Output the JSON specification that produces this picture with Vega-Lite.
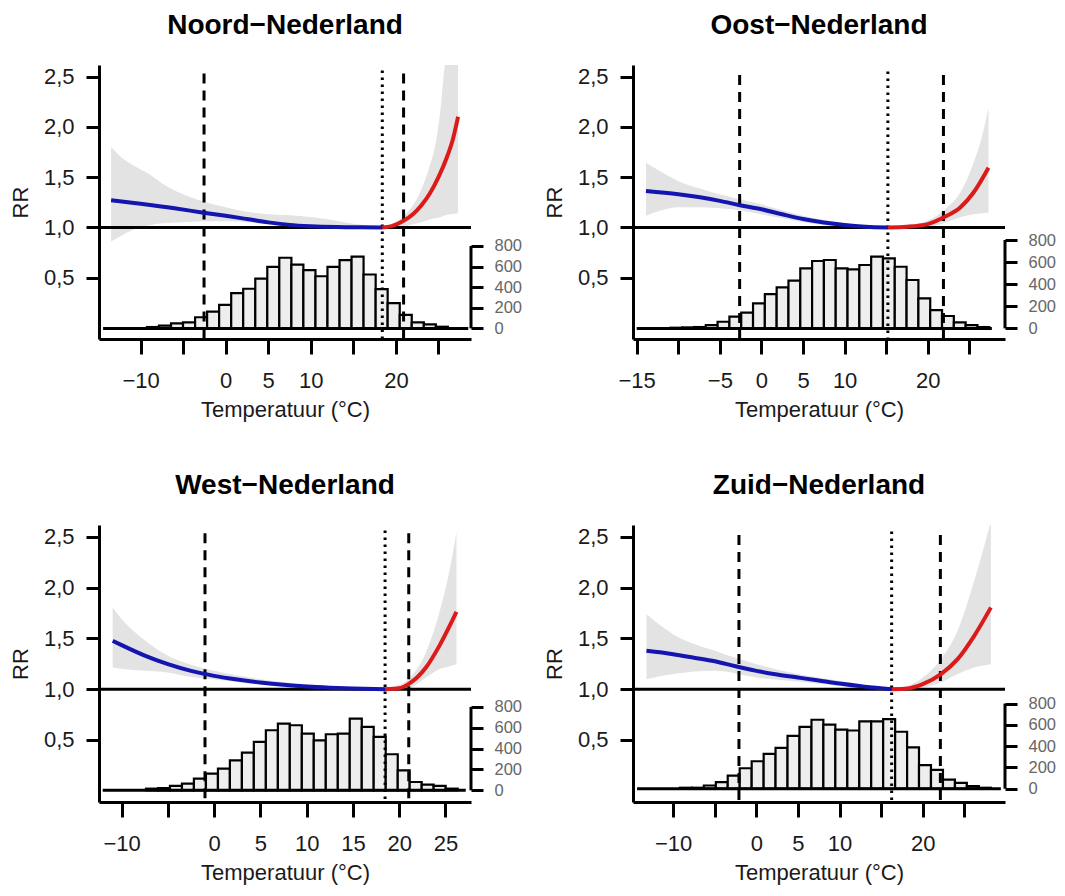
{
  "$schema": "https://vega.github.io/schema/vega-lite/v6.json",
  "background": "white",
  "padding": {"left": 9, "top": 12, "right": 5, "bottom": 5},
  "config": {
    "view": {"stroke": null},
    "font": "Liberation Sans",
    "axis": {"domainColor": "black", "domainWidth": 3, "tickColor": "black", "tickWidth": 3, "labelFont": "Liberation Sans", "labelFontSize": 22, "labelColor": "#1a1a1a", "titleFont": "Liberation Sans", "titleFontSize": 22, "titleFontWeight": "normal", "titleColor": "#1a1a1a", "grid": false, "labelFlush": false, "labelOverlap": false},
    "title": {"font": "Liberation Sans", "fontSize": 28, "fontWeight": "bold", "color": "black", "anchor": "middle", "frame": "group", "baseline": "alphabetic", "offset": 25}
  },
  "datasets": {
    "n_c": [
      {"t": -13.46, "rr": 1.27, "seg": "k"}, {"t": -10, "rr": 1.235, "seg": "k"}, {"t": -6, "rr": 1.19, "seg": "k"}, {"t": -2.6, "rr": 1.146, "seg": "k"}, {"t": 0, "rr": 1.115, "seg": "k"}, {"t": 2.5, "rr": 1.083, "seg": "k"}, {"t": 5, "rr": 1.05, "seg": "k"}, {"t": 7.5, "rr": 1.025, "seg": "k"}, {"t": 10, "rr": 1.012, "seg": "k"}, {"t": 13, "rr": 1.004, "seg": "k"}, {"t": 16, "rr": 1.001, "seg": "k"}, {"t": 18.4, "rr": 1.0, "seg": "k"},
      {"t": 18.4, "rr": 1.0, "seg": "w"}, {"t": 19.5, "rr": 1.012, "seg": "w"}, {"t": 20.8, "rr": 1.06, "seg": "w"}, {"t": 22, "rr": 1.13, "seg": "w"}, {"t": 23, "rr": 1.22, "seg": "w"}, {"t": 24, "rr": 1.34, "seg": "w"}, {"t": 25, "rr": 1.5, "seg": "w"}, {"t": 26, "rr": 1.7, "seg": "w"}, {"t": 26.7, "rr": 1.88, "seg": "w"}, {"t": 27.3, "rr": 2.1, "seg": "w"}
    ],
    "n_b": [
      {"t": -13.46, "lo": 0.86, "hi": 1.8}, {"t": -12, "lo": 0.93, "hi": 1.68}, {"t": -10.5, "lo": 0.99, "hi": 1.6}, {"t": -9, "lo": 1.02, "hi": 1.53}, {"t": -7.5, "lo": 1.04, "hi": 1.44}, {"t": -5, "lo": 1.05, "hi": 1.33}, {"t": -2.5, "lo": 1.06, "hi": 1.255}, {"t": 0, "lo": 1.06, "hi": 1.2}, {"t": 2.5, "lo": 1.05, "hi": 1.156}, {"t": 5, "lo": 1.03, "hi": 1.13}, {"t": 8.4, "lo": 1.01, "hi": 1.115}, {"t": 12, "lo": 1.0, "hi": 1.08}, {"t": 15, "lo": 1.0, "hi": 1.035}, {"t": 17, "lo": 1.0, "hi": 1.015}, {"t": 18.4, "lo": 1.0, "hi": 1.0}, {"t": 20, "lo": 1.0, "hi": 1.05}, {"t": 21, "lo": 1.01, "hi": 1.12}, {"t": 22, "lo": 1.03, "hi": 1.22}, {"t": 23, "lo": 1.05, "hi": 1.38}, {"t": 24, "lo": 1.08, "hi": 1.62}, {"t": 24.7, "lo": 1.09, "hi": 1.85}, {"t": 25.2, "lo": 1.1, "hi": 2.15}, {"t": 25.75, "lo": 1.12, "hi": 2.62}, {"t": 26.5, "lo": 1.13, "hi": 2.9}, {"t": 27.3, "lo": 1.14, "hi": 3.0}
    ],
    "n_h": [
      {"t0": -9.25, "t1": -7.84, "n": 13}, {"t0": -7.84, "t1": -6.42, "n": 26}, {"t0": -6.42, "t1": -5.01, "n": 49}, {"t0": -5.01, "t1": -3.59, "n": 59}, {"t0": -3.59, "t1": -2.18, "n": 108}, {"t0": -2.18, "t1": -0.77, "n": 163}, {"t0": -0.77, "t1": 0.65, "n": 229}, {"t0": 0.65, "t1": 2.06, "n": 343}, {"t0": 2.06, "t1": 3.48, "n": 385}, {"t0": 3.48, "t1": 4.89, "n": 483}, {"t0": 4.89, "t1": 6.3, "n": 598}, {"t0": 6.3, "t1": 7.72, "n": 686}, {"t0": 7.72, "t1": 9.13, "n": 620}, {"t0": 9.13, "t1": 10.55, "n": 565}, {"t0": 10.55, "t1": 11.96, "n": 506}, {"t0": 11.96, "t1": 13.38, "n": 598}, {"t0": 13.38, "t1": 14.79, "n": 663}, {"t0": 14.79, "t1": 16.2, "n": 696}, {"t0": 16.2, "t1": 17.62, "n": 523}, {"t0": 17.62, "t1": 19.03, "n": 382}, {"t0": 19.03, "t1": 20.45, "n": 245}, {"t0": 20.45, "t1": 21.86, "n": 131}, {"t0": 21.86, "t1": 23.28, "n": 59}, {"t0": 23.28, "t1": 24.69, "n": 39}, {"t0": 24.69, "t1": 26.1, "n": 16}
    ],
    "n_v": [{"t": -2.54, "top": 2.53, "k": "d"}, {"t": 20.9, "top": 2.53, "k": "d"}, {"t": 18.4, "top": 2.56, "k": "p"}],
    "o_c": [
      {"t": -13.88, "rr": 1.363, "seg": "k"}, {"t": -10, "rr": 1.33, "seg": "k"}, {"t": -5, "rr": 1.264, "seg": "k"}, {"t": -2.6, "rr": 1.221, "seg": "k"}, {"t": 0, "rr": 1.18, "seg": "k"}, {"t": 2.5, "rr": 1.13, "seg": "k"}, {"t": 5, "rr": 1.083, "seg": "k"}, {"t": 7.5, "rr": 1.048, "seg": "k"}, {"t": 10, "rr": 1.023, "seg": "k"}, {"t": 12.5, "rr": 1.007, "seg": "k"}, {"t": 15.2, "rr": 1.0, "seg": "k"},
      {"t": 15.2, "rr": 1.0, "seg": "w"}, {"t": 17.5, "rr": 1.007, "seg": "w"}, {"t": 20, "rr": 1.033, "seg": "w"}, {"t": 21.9, "rr": 1.1, "seg": "w"}, {"t": 23.9, "rr": 1.198, "seg": "w"}, {"t": 25.5, "rr": 1.347, "seg": "w"}, {"t": 27.3, "rr": 1.594, "seg": "w"}
    ],
    "o_b": [
      {"t": -13.88, "lo": 1.116, "hi": 1.644}, {"t": -12, "lo": 1.17, "hi": 1.55}, {"t": -10, "lo": 1.2, "hi": 1.46}, {"t": -7.5, "lo": 1.2, "hi": 1.39}, {"t": -5, "lo": 1.19, "hi": 1.33}, {"t": -2.6, "lo": 1.17, "hi": 1.28}, {"t": 0, "lo": 1.13, "hi": 1.23}, {"t": 2.5, "lo": 1.09, "hi": 1.17}, {"t": 5, "lo": 1.05, "hi": 1.116}, {"t": 7.5, "lo": 1.025, "hi": 1.075}, {"t": 10, "lo": 1.008, "hi": 1.04}, {"t": 12.5, "lo": 1.0, "hi": 1.015}, {"t": 15.2, "lo": 1.0, "hi": 1.0}, {"t": 17.5, "lo": 1.0, "hi": 1.02}, {"t": 20, "lo": 1.0, "hi": 1.066}, {"t": 21.9, "lo": 1.04, "hi": 1.17}, {"t": 23.9, "lo": 1.1, "hi": 1.347}, {"t": 25.5, "lo": 1.13, "hi": 1.644}, {"t": 26.5, "lo": 1.14, "hi": 1.9}, {"t": 27.3, "lo": 1.149, "hi": 2.19}
    ],
    "o_h": [
      {"t0": -10.95, "t1": -9.53, "n": 6}, {"t0": -9.53, "t1": -8.11, "n": 9}, {"t0": -8.11, "t1": -6.69, "n": 12}, {"t0": -6.69, "t1": -5.27, "n": 30}, {"t0": -5.27, "t1": -3.85, "n": 60}, {"t0": -3.85, "t1": -2.43, "n": 106}, {"t0": -2.43, "t1": -1.01, "n": 142}, {"t0": -1.01, "t1": 0.41, "n": 226}, {"t0": 0.41, "t1": 1.83, "n": 311}, {"t0": 1.83, "t1": 3.25, "n": 371}, {"t0": 3.25, "t1": 4.67, "n": 432}, {"t0": 4.67, "t1": 6.09, "n": 543}, {"t0": 6.09, "t1": 7.51, "n": 610}, {"t0": 7.51, "t1": 8.93, "n": 619}, {"t0": 8.93, "t1": 10.35, "n": 543}, {"t0": 10.35, "t1": 11.77, "n": 534}, {"t0": 11.77, "t1": 13.19, "n": 574}, {"t0": 13.19, "t1": 14.61, "n": 649}, {"t0": 14.61, "t1": 16.03, "n": 634}, {"t0": 16.03, "t1": 17.45, "n": 558}, {"t0": 17.45, "t1": 18.87, "n": 438}, {"t0": 18.87, "t1": 20.29, "n": 272}, {"t0": 20.29, "t1": 21.71, "n": 166}, {"t0": 21.71, "t1": 23.13, "n": 112}, {"t0": 23.13, "t1": 24.55, "n": 54}, {"t0": 24.55, "t1": 25.97, "n": 30}, {"t0": 25.97, "t1": 27.39, "n": 12}
    ],
    "o_v": [{"t": -2.62, "top": 2.516, "k": "d"}, {"t": 21.88, "top": 2.516, "k": "d"}, {"t": 15.2, "top": 2.55, "k": "p"}],
    "w_c": [
      {"t": -10.97, "rr": 1.475, "seg": "k"}, {"t": -10, "rr": 1.433, "seg": "k"}, {"t": -7.5, "rr": 1.33, "seg": "k"}, {"t": -5, "rr": 1.246, "seg": "k"}, {"t": -2.5, "rr": 1.18, "seg": "k"}, {"t": 0, "rr": 1.131, "seg": "k"}, {"t": 2.5, "rr": 1.095, "seg": "k"}, {"t": 5, "rr": 1.066, "seg": "k"}, {"t": 7.5, "rr": 1.043, "seg": "k"}, {"t": 10, "rr": 1.026, "seg": "k"}, {"t": 12.5, "rr": 1.015, "seg": "k"}, {"t": 15, "rr": 1.007, "seg": "k"}, {"t": 18.48, "rr": 1.0, "seg": "k"},
      {"t": 18.48, "rr": 1.0, "seg": "w"}, {"t": 20, "rr": 1.01, "seg": "w"}, {"t": 21, "rr": 1.05, "seg": "w"}, {"t": 22.9, "rr": 1.213, "seg": "w"}, {"t": 24.35, "rr": 1.426, "seg": "w"}, {"t": 26.2, "rr": 1.76, "seg": "w"}
    ],
    "w_b": [
      {"t": -10.97, "lo": 1.213, "hi": 1.803}, {"t": -10, "lo": 1.2, "hi": 1.69}, {"t": -7.5, "lo": 1.18, "hi": 1.48}, {"t": -5, "lo": 1.164, "hi": 1.328}, {"t": -2.5, "lo": 1.12, "hi": 1.24}, {"t": 0, "lo": 1.098, "hi": 1.18}, {"t": 5, "lo": 1.043, "hi": 1.098}, {"t": 10, "lo": 1.01, "hi": 1.049}, {"t": 15, "lo": 1.0, "hi": 1.016}, {"t": 18.48, "lo": 1.0, "hi": 1.0}, {"t": 20, "lo": 1.0, "hi": 1.04}, {"t": 21, "lo": 1.007, "hi": 1.098}, {"t": 22.9, "lo": 1.115, "hi": 1.36}, {"t": 24.35, "lo": 1.197, "hi": 1.754}, {"t": 25.3, "lo": 1.22, "hi": 2.1}, {"t": 26.2, "lo": 1.246, "hi": 2.54}
    ],
    "w_h": [
      {"t0": -7.37, "t1": -6.07, "n": 16}, {"t0": -6.07, "t1": -4.78, "n": 22}, {"t0": -4.78, "t1": -3.48, "n": 42}, {"t0": -3.48, "t1": -2.19, "n": 64}, {"t0": -2.19, "t1": -0.89, "n": 112}, {"t0": -0.89, "t1": 0.41, "n": 160}, {"t0": 0.41, "t1": 1.7, "n": 208}, {"t0": 1.7, "t1": 3.0, "n": 288}, {"t0": 3.0, "t1": 4.29, "n": 362}, {"t0": 4.29, "t1": 5.59, "n": 464}, {"t0": 5.59, "t1": 6.89, "n": 576}, {"t0": 6.89, "t1": 8.18, "n": 640}, {"t0": 8.18, "t1": 9.48, "n": 624}, {"t0": 9.48, "t1": 10.77, "n": 544}, {"t0": 10.77, "t1": 12.07, "n": 480}, {"t0": 12.07, "t1": 13.37, "n": 538}, {"t0": 13.37, "t1": 14.66, "n": 544}, {"t0": 14.66, "t1": 15.96, "n": 688}, {"t0": 15.96, "t1": 17.25, "n": 608}, {"t0": 17.25, "t1": 18.55, "n": 512}, {"t0": 18.55, "t1": 19.85, "n": 346}, {"t0": 19.85, "t1": 21.14, "n": 192}, {"t0": 21.14, "t1": 22.44, "n": 80}, {"t0": 22.44, "t1": 23.73, "n": 54}, {"t0": 23.73, "t1": 25.03, "n": 42}, {"t0": 25.03, "t1": 26.33, "n": 16}
    ],
    "w_v": [{"t": -0.99, "top": 2.533, "k": "d"}, {"t": 21.04, "top": 2.533, "k": "d"}, {"t": 18.48, "top": 2.56, "k": "p"}],
    "z_c": [
      {"t": -13.21, "rr": 1.377, "seg": "k"}, {"t": -10, "rr": 1.344, "seg": "k"}, {"t": -7.5, "rr": 1.31, "seg": "k"}, {"t": -5, "rr": 1.275, "seg": "k"}, {"t": -2.5, "rr": 1.225, "seg": "k"}, {"t": 0, "rr": 1.18, "seg": "k"}, {"t": 2.5, "rr": 1.145, "seg": "k"}, {"t": 5, "rr": 1.115, "seg": "k"}, {"t": 7.5, "rr": 1.085, "seg": "k"}, {"t": 10, "rr": 1.055, "seg": "k"}, {"t": 13, "rr": 1.025, "seg": "k"}, {"t": 16.27, "rr": 1.0, "seg": "k"},
      {"t": 16.27, "rr": 1.0, "seg": "w"}, {"t": 18.2, "rr": 1.007, "seg": "w"}, {"t": 20, "rr": 1.049, "seg": "w"}, {"t": 22.2, "rr": 1.148, "seg": "w"}, {"t": 24.2, "rr": 1.295, "seg": "w"}, {"t": 26.2, "rr": 1.525, "seg": "w"}, {"t": 28.2, "rr": 1.803, "seg": "w"}
    ],
    "z_b": [
      {"t": -13.21, "lo": 1.098, "hi": 1.738}, {"t": -10, "lo": 1.148, "hi": 1.541}, {"t": -5, "lo": 1.18, "hi": 1.377}, {"t": 0, "lo": 1.115, "hi": 1.246}, {"t": 5, "lo": 1.075, "hi": 1.148}, {"t": 10, "lo": 1.033, "hi": 1.082}, {"t": 15, "lo": 1.0, "hi": 1.016}, {"t": 16.27, "lo": 1.0, "hi": 1.0}, {"t": 18.2, "lo": 1.0, "hi": 1.03}, {"t": 20, "lo": 1.016, "hi": 1.115}, {"t": 22.2, "lo": 1.066, "hi": 1.295}, {"t": 24.2, "lo": 1.148, "hi": 1.574}, {"t": 26.2, "lo": 1.213, "hi": 2.066}, {"t": 28.2, "lo": 1.246, "hi": 2.65}
    ],
    "z_h": [
      {"t0": -9.19, "t1": -7.75, "n": 9}, {"t0": -7.75, "t1": -6.31, "n": 9}, {"t0": -6.31, "t1": -4.87, "n": 30}, {"t0": -4.87, "t1": -3.44, "n": 61}, {"t0": -3.44, "t1": -2.0, "n": 122}, {"t0": -2.0, "t1": -0.56, "n": 192}, {"t0": -0.56, "t1": 0.88, "n": 258}, {"t0": 0.88, "t1": 2.31, "n": 328}, {"t0": 2.31, "t1": 3.75, "n": 383}, {"t0": 3.75, "t1": 5.19, "n": 496}, {"t0": 5.19, "t1": 6.63, "n": 581}, {"t0": 6.63, "t1": 8.06, "n": 648}, {"t0": 8.06, "t1": 9.5, "n": 602}, {"t0": 9.5, "t1": 10.94, "n": 556}, {"t0": 10.94, "t1": 12.38, "n": 547}, {"t0": 12.38, "t1": 13.81, "n": 632}, {"t0": 13.81, "t1": 15.25, "n": 632}, {"t0": 15.25, "t1": 16.69, "n": 654}, {"t0": 16.69, "t1": 18.13, "n": 535}, {"t0": 18.13, "t1": 19.56, "n": 389}, {"t0": 19.56, "t1": 21.0, "n": 222}, {"t0": 21.0, "t1": 22.44, "n": 176}, {"t0": 22.44, "t1": 23.88, "n": 85}, {"t0": 23.88, "t1": 25.31, "n": 55}, {"t0": 25.31, "t1": 26.75, "n": 24}, {"t0": 26.75, "t1": 28.19, "n": 9}
    ],
    "z_v": [{"t": -2.09, "top": 2.517, "k": "d"}, {"t": 22.13, "top": 2.517, "k": "d"}, {"t": 16.27, "top": 2.55, "k": "p"}]
  },
  "columns": 2,
  "spacing": {"row": 186, "column": 162},
  "bounds": "flush",
  "concat": [
    {
      "width": 372, "height": 274,
      "title": {"text": "Noord−Nederland"},
      "resolve": {"scale": {"y": "independent"}, "axis": {"y": "independent"}},
      "layer": [
        {
          "layer": [
            {"data": {"name": "n_h"}, "mark": {"type": "rect", "fill": "#eeeeee", "stroke": "black", "strokeWidth": 2.2},
             "encoding": {"x": {"field": "t0", "type": "quantitative", "scale": {"domain": [-14.88, 28.82], "nice": false, "zero": false}}, "x2": {"field": "t1"},
                          "y": {"field": "n", "type": "quantitative", "scale": {"domain": [-103, 2557], "nice": false, "zero": false}, "axis": {"orient": "right", "values": [0, 200, 400, 600, 800], "domain": false, "tickSize": 12, "labelPadding": 11, "labelFontSize": 16.5, "labelColor": "#666666", "title": null}},
                          "y2": {"datum": 0}}},
            {"data": {"values": [{"a": -14.4, "b": 28.5}]}, "mark": {"type": "rule", "strokeWidth": 3, "color": "black"},
             "encoding": {"x": {"field": "a", "type": "quantitative", "scale": {"domain": [-14.88, 28.82], "nice": false, "zero": false}}, "x2": {"field": "b"},
                          "y": {"datum": 0, "type": "quantitative", "scale": {"domain": [-103, 2557], "nice": false, "zero": false}}}},
            {"data": {"values": [{"a": 0, "b": 800}]}, "mark": {"type": "rule", "strokeWidth": 3, "color": "black"},
             "encoding": {"x": {"value": "width"},
                          "y": {"field": "a", "type": "quantitative", "scale": {"domain": [-103, 2557], "nice": false, "zero": false}}, "y2": {"field": "b"}}}
          ]
        },
        {
          "layer": [
            {"data": {"name": "n_b"}, "mark": {"type": "area", "color": "#e3e3e3", "clip": true, "interpolate": "monotone"},
             "encoding": {"x": {"field": "t", "type": "quantitative", "scale": {"domain": [-14.88, 28.82], "nice": false, "zero": false},
                                "axis": {"orient": "bottom", "values": [-10, -5, 0, 5, 10, 15, 20, 25], "tickSize": 15, "labelPadding": 16, "labelExpr": "datum.value == -5 || datum.value == 15 || datum.value == 25 ? '' : datum.label", "title": "Temperatuur (°C)", "titlePadding": 8}},
                          "y": {"field": "lo", "type": "quantitative", "scale": {"domain": [-0.11, 2.615], "nice": false, "zero": false},
                                "axis": {"orient": "left", "values": [0.5, 1, 1.5, 2, 2.5], "tickSize": 13, "labelPadding": 12, "labelExpr": "replace(format(datum.value, '.1f'), '.', ',')", "title": "RR", "titlePadding": 11}},
                          "y2": {"field": "hi"}}},
            {"data": {"values": [{"a": 1}]}, "mark": {"type": "rule", "strokeWidth": 3, "color": "black"},
             "encoding": {"y": {"field": "a", "type": "quantitative", "scale": {"domain": [-0.11, 2.615], "nice": false, "zero": false}}}},
            {"data": {"name": "n_v"}, "mark": {"type": "rule", "strokeWidth": 3, "color": "black"},
             "encoding": {"x": {"field": "t", "type": "quantitative", "scale": {"domain": [-14.88, 28.82], "nice": false, "zero": false}},
                          "y": {"field": "top", "type": "quantitative", "scale": {"domain": [-0.11, 2.615], "nice": false, "zero": false}},
                          "y2": {"value": "height"},
                          "strokeDash": {"field": "k", "type": "nominal", "scale": {"domain": ["d", "p"], "range": [[10, 7], [2.5, 4.5]]}, "legend": null}}},
            {"data": {"name": "n_c"}, "mark": {"type": "line", "strokeWidth": 4, "interpolate": "monotone"},
             "encoding": {"x": {"field": "t", "type": "quantitative", "scale": {"domain": [-14.88, 28.82], "nice": false, "zero": false}},
                          "y": {"field": "rr", "type": "quantitative", "scale": {"domain": [-0.11, 2.615], "nice": false, "zero": false}},
                          "color": {"field": "seg", "type": "nominal", "scale": {"domain": ["k", "w"], "range": ["#1414b0", "#dc1a1a"]}, "legend": null}}}
          ]
        }
      ]
    },
    {
      "width": 372, "height": 274,
      "title": {"text": "Oost−Nederland"},
      "resolve": {"scale": {"y": "independent"}, "axis": {"y": "independent"}},
      "layer": [
        {
          "layer": [
            {"data": {"name": "o_h"}, "mark": {"type": "rect", "fill": "#eeeeee", "stroke": "black", "strokeWidth": 2.2},
             "encoding": {"x": {"field": "t0", "type": "quantitative", "scale": {"domain": [-15.44, 29.28], "nice": false, "zero": false}}, "x2": {"field": "t1"},
                          "y": {"field": "n", "type": "quantitative", "scale": {"domain": [-96, 2384], "nice": false, "zero": false}, "axis": {"orient": "right", "values": [0, 200, 400, 600, 800], "domain": false, "tickSize": 12, "labelPadding": 11, "labelFontSize": 16.5, "labelColor": "#666666", "title": null}},
                          "y2": {"datum": 0}}},
            {"data": {"values": [{"a": -15.0, "b": 27.7}]}, "mark": {"type": "rule", "strokeWidth": 3, "color": "black"},
             "encoding": {"x": {"field": "a", "type": "quantitative", "scale": {"domain": [-15.44, 29.28], "nice": false, "zero": false}}, "x2": {"field": "b"},
                          "y": {"datum": 0, "type": "quantitative", "scale": {"domain": [-96, 2384], "nice": false, "zero": false}}}},
            {"data": {"values": [{"a": 0, "b": 800}]}, "mark": {"type": "rule", "strokeWidth": 3, "color": "black"},
             "encoding": {"x": {"value": "width"},
                          "y": {"field": "a", "type": "quantitative", "scale": {"domain": [-96, 2384], "nice": false, "zero": false}}, "y2": {"field": "b"}}}
          ]
        },
        {
          "layer": [
            {"data": {"name": "o_b"}, "mark": {"type": "area", "color": "#e3e3e3", "clip": true, "interpolate": "monotone"},
             "encoding": {"x": {"field": "t", "type": "quantitative", "scale": {"domain": [-15.44, 29.28], "nice": false, "zero": false},
                                "axis": {"orient": "bottom", "values": [-15, -10, -5, 0, 5, 10, 15, 20, 25], "tickSize": 15, "labelPadding": 16, "labelExpr": "datum.value == -10 || datum.value == 15 || datum.value == 25 ? '' : datum.label", "title": "Temperatuur (°C)", "titlePadding": 8}},
                          "y": {"field": "lo", "type": "quantitative", "scale": {"domain": [-0.11, 2.615], "nice": false, "zero": false},
                                "axis": {"orient": "left", "values": [0.5, 1, 1.5, 2, 2.5], "tickSize": 13, "labelPadding": 12, "labelExpr": "replace(format(datum.value, '.1f'), '.', ',')", "title": "RR", "titlePadding": 11}},
                          "y2": {"field": "hi"}}},
            {"data": {"values": [{"a": 1}]}, "mark": {"type": "rule", "strokeWidth": 3, "color": "black"},
             "encoding": {"y": {"field": "a", "type": "quantitative", "scale": {"domain": [-0.11, 2.615], "nice": false, "zero": false}}}},
            {"data": {"name": "o_v"}, "mark": {"type": "rule", "strokeWidth": 3, "color": "black"},
             "encoding": {"x": {"field": "t", "type": "quantitative", "scale": {"domain": [-15.44, 29.28], "nice": false, "zero": false}},
                          "y": {"field": "top", "type": "quantitative", "scale": {"domain": [-0.11, 2.615], "nice": false, "zero": false}},
                          "y2": {"value": "height"},
                          "strokeDash": {"field": "k", "type": "nominal", "scale": {"domain": ["d", "p"], "range": [[10, 7], [2.5, 4.5]]}, "legend": null}}},
            {"data": {"name": "o_c"}, "mark": {"type": "line", "strokeWidth": 4, "interpolate": "monotone"},
             "encoding": {"x": {"field": "t", "type": "quantitative", "scale": {"domain": [-15.44, 29.28], "nice": false, "zero": false}},
                          "y": {"field": "rr", "type": "quantitative", "scale": {"domain": [-0.11, 2.615], "nice": false, "zero": false}},
                          "color": {"field": "seg", "type": "nominal", "scale": {"domain": ["k", "w"], "range": ["#1414b0", "#dc1a1a"]}, "legend": null}}}
          ]
        }
      ]
    },
    {
      "width": 372, "height": 277,
      "title": {"text": "West−Nederland"},
      "resolve": {"scale": {"y": "independent"}, "axis": {"y": "independent"}},
      "layer": [
        {
          "layer": [
            {"data": {"name": "w_h"}, "mark": {"type": "rect", "fill": "#eeeeee", "stroke": "black", "strokeWidth": 2.2},
             "encoding": {"x": {"field": "t0", "type": "quantitative", "scale": {"domain": [-12.45, 27.77], "nice": false, "zero": false}}, "x2": {"field": "t1"},
                          "y": {"field": "n", "type": "quantitative", "scale": {"domain": [-112, 2545], "nice": false, "zero": false}, "axis": {"orient": "right", "values": [0, 200, 400, 600, 800], "domain": false, "tickSize": 12, "labelPadding": 11, "labelFontSize": 16.5, "labelColor": "#666666", "title": null}},
                          "y2": {"datum": 0}}},
            {"data": {"values": [{"a": -12.05, "b": 27.2}]}, "mark": {"type": "rule", "strokeWidth": 3, "color": "black"},
             "encoding": {"x": {"field": "a", "type": "quantitative", "scale": {"domain": [-12.45, 27.77], "nice": false, "zero": false}}, "x2": {"field": "b"},
                          "y": {"datum": 0, "type": "quantitative", "scale": {"domain": [-112, 2545], "nice": false, "zero": false}}}},
            {"data": {"values": [{"a": 0, "b": 800}]}, "mark": {"type": "rule", "strokeWidth": 3, "color": "black"},
             "encoding": {"x": {"value": "width"},
                          "y": {"field": "a", "type": "quantitative", "scale": {"domain": [-112, 2545], "nice": false, "zero": false}}, "y2": {"field": "b"}}}
          ]
        },
        {
          "layer": [
            {"data": {"name": "w_b"}, "mark": {"type": "area", "color": "#e3e3e3", "clip": true, "interpolate": "monotone"},
             "encoding": {"x": {"field": "t", "type": "quantitative", "scale": {"domain": [-12.45, 27.77], "nice": false, "zero": false},
                                "axis": {"orient": "bottom", "values": [-10, -5, 0, 5, 10, 15, 20, 25], "tickSize": 15, "labelPadding": 16, "labelExpr": "datum.value == -5 ? '' : datum.label", "title": "Temperatuur (°C)", "titlePadding": 8}},
                          "y": {"field": "lo", "type": "quantitative", "scale": {"domain": [-0.11, 2.615], "nice": false, "zero": false},
                                "axis": {"orient": "left", "values": [0.5, 1, 1.5, 2, 2.5], "tickSize": 13, "labelPadding": 12, "labelExpr": "replace(format(datum.value, '.1f'), '.', ',')", "title": "RR", "titlePadding": 11}},
                          "y2": {"field": "hi"}}},
            {"data": {"values": [{"a": 1}]}, "mark": {"type": "rule", "strokeWidth": 3, "color": "black"},
             "encoding": {"y": {"field": "a", "type": "quantitative", "scale": {"domain": [-0.11, 2.615], "nice": false, "zero": false}}}},
            {"data": {"name": "w_v"}, "mark": {"type": "rule", "strokeWidth": 3, "color": "black"},
             "encoding": {"x": {"field": "t", "type": "quantitative", "scale": {"domain": [-12.45, 27.77], "nice": false, "zero": false}},
                          "y": {"field": "top", "type": "quantitative", "scale": {"domain": [-0.11, 2.615], "nice": false, "zero": false}},
                          "y2": {"value": "height"},
                          "strokeDash": {"field": "k", "type": "nominal", "scale": {"domain": ["d", "p"], "range": [[10, 7], [2.5, 4.5]]}, "legend": null}}},
            {"data": {"name": "w_c"}, "mark": {"type": "line", "strokeWidth": 4, "interpolate": "monotone"},
             "encoding": {"x": {"field": "t", "type": "quantitative", "scale": {"domain": [-12.45, 27.77], "nice": false, "zero": false}},
                          "y": {"field": "rr", "type": "quantitative", "scale": {"domain": [-0.11, 2.615], "nice": false, "zero": false}},
                          "color": {"field": "seg", "type": "nominal", "scale": {"domain": ["k", "w"], "range": ["#1414b0", "#dc1a1a"]}, "legend": null}}}
          ]
        }
      ]
    },
    {
      "width": 372, "height": 277,
      "title": {"text": "Zuid−Nederland"},
      "resolve": {"scale": {"y": "independent"}, "axis": {"y": "independent"}},
      "layer": [
        {
          "layer": [
            {"data": {"name": "z_h"}, "mark": {"type": "rect", "fill": "#eeeeee", "stroke": "black", "strokeWidth": 2.2},
             "encoding": {"x": {"field": "t0", "type": "quantitative", "scale": {"domain": [-14.83, 29.9], "nice": false, "zero": false}}, "x2": {"field": "t1"},
                          "y": {"field": "n", "type": "quantitative", "scale": {"domain": [-125, 2478], "nice": false, "zero": false}, "axis": {"orient": "right", "values": [0, 200, 400, 600, 800], "domain": false, "tickSize": 12, "labelPadding": 11, "labelFontSize": 16.5, "labelColor": "#666666", "title": null}},
                          "y2": {"datum": 0}}},
            {"data": {"values": [{"a": -14.34, "b": 29.4}]}, "mark": {"type": "rule", "strokeWidth": 3, "color": "black"},
             "encoding": {"x": {"field": "a", "type": "quantitative", "scale": {"domain": [-14.83, 29.9], "nice": false, "zero": false}}, "x2": {"field": "b"},
                          "y": {"datum": 0, "type": "quantitative", "scale": {"domain": [-125, 2478], "nice": false, "zero": false}}}},
            {"data": {"values": [{"a": 0, "b": 800}]}, "mark": {"type": "rule", "strokeWidth": 3, "color": "black"},
             "encoding": {"x": {"value": "width"},
                          "y": {"field": "a", "type": "quantitative", "scale": {"domain": [-125, 2478], "nice": false, "zero": false}}, "y2": {"field": "b"}}}
          ]
        },
        {
          "layer": [
            {"data": {"name": "z_b"}, "mark": {"type": "area", "color": "#e3e3e3", "clip": true, "interpolate": "monotone"},
             "encoding": {"x": {"field": "t", "type": "quantitative", "scale": {"domain": [-14.83, 29.9], "nice": false, "zero": false},
                                "axis": {"orient": "bottom", "values": [-10, -5, 0, 5, 10, 15, 20, 25], "tickSize": 15, "labelPadding": 16, "labelExpr": "datum.value == -5 || datum.value == 15 || datum.value == 25 ? '' : datum.label", "title": "Temperatuur (°C)", "titlePadding": 8}},
                          "y": {"field": "lo", "type": "quantitative", "scale": {"domain": [-0.11, 2.615], "nice": false, "zero": false},
                                "axis": {"orient": "left", "values": [0.5, 1, 1.5, 2, 2.5], "tickSize": 13, "labelPadding": 12, "labelExpr": "replace(format(datum.value, '.1f'), '.', ',')", "title": "RR", "titlePadding": 11}},
                          "y2": {"field": "hi"}}},
            {"data": {"values": [{"a": 1}]}, "mark": {"type": "rule", "strokeWidth": 3, "color": "black"},
             "encoding": {"y": {"field": "a", "type": "quantitative", "scale": {"domain": [-0.11, 2.615], "nice": false, "zero": false}}}},
            {"data": {"name": "z_v"}, "mark": {"type": "rule", "strokeWidth": 3, "color": "black"},
             "encoding": {"x": {"field": "t", "type": "quantitative", "scale": {"domain": [-14.83, 29.9], "nice": false, "zero": false}},
                          "y": {"field": "top", "type": "quantitative", "scale": {"domain": [-0.11, 2.615], "nice": false, "zero": false}},
                          "y2": {"value": "height"},
                          "strokeDash": {"field": "k", "type": "nominal", "scale": {"domain": ["d", "p"], "range": [[10, 7], [2.5, 4.5]]}, "legend": null}}},
            {"data": {"name": "z_c"}, "mark": {"type": "line", "strokeWidth": 4, "interpolate": "monotone"},
             "encoding": {"x": {"field": "t", "type": "quantitative", "scale": {"domain": [-14.83, 29.9], "nice": false, "zero": false}},
                          "y": {"field": "rr", "type": "quantitative", "scale": {"domain": [-0.11, 2.615], "nice": false, "zero": false}},
                          "color": {"field": "seg", "type": "nominal", "scale": {"domain": ["k", "w"], "range": ["#1414b0", "#dc1a1a"]}, "legend": null}}}
          ]
        }
      ]
    }
  ]
}
